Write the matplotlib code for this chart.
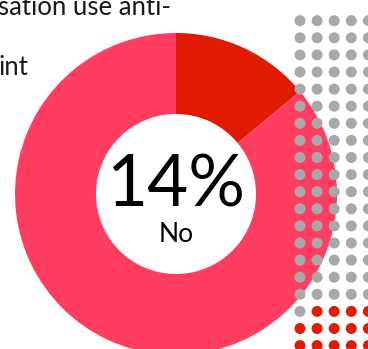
import matplotlib
matplotlib.use("Agg")
import matplotlib.pyplot as plt
import numpy as np

# Share answering "No" vs the rest
labels = ["No", "Yes"]
shares = [14, 86]
headline = "14%"
headline_label = "No"
caption_lines = ["sation use anti-", "int"]

# Waffle of 100 dots: 5 columns x 20 rows
waffle_cols = 5
waffle_rows = 20
waffle_highlight = 14

RED = "#E01B00"
PINK = "#FF3D60"
GREY = "#A8A8A8"
INK = "#1A1A1A"

W, H = 368, 349
fig = plt.figure(figsize=(W / 100, H / 100), dpi=100)
ax = fig.add_axes([0, 0, 1, 1])

# Donut
cx, cy = 176, H - 194
r_out, r_in = 161, 80
ax.pie(shares, colors=[RED, PINK], startangle=90, counterclock=False,
       center=(cx, cy), radius=r_out,
       wedgeprops=dict(width=r_out - r_in, linewidth=0))

ax.text(cx, cy + 8, headline, ha="center", va="center",
        fontsize=51, family="Lato", color="black")
ax.text(cx, cy - 40, headline_label, ha="center", va="center",
        fontsize=19, family="Lato", color="black")

# Caption fragment at top-left
ax.text(-2, H - 15, caption_lines[0], ha="left", va="baseline",
        fontsize=18.5, family="Lato", color=INK)
ax.text(-2, H - 75, caption_lines[1], ha="left", va="baseline",
        fontsize=18.5, family="Lato", color=INK)

# Waffle grid, filled row by row; the last dots are highlighted
total = waffle_cols * waffle_rows
idx = np.arange(total)
col = idx % waffle_cols
row = idx // waffle_cols
xs = 300 + 17.1 * col
ys = H - (20.7 + 17.1 * row)
colors = np.where(idx >= total - waffle_highlight, RED, GREY)
ax.scatter(xs, ys, s=(11 * 0.72) ** 2, c=colors, linewidths=0, zorder=5)

ax.set_xlim(0, W)
ax.set_ylim(0, H)
ax.set_aspect("auto")
ax.axis("off")

fig.savefig("out.png", dpi=100)
